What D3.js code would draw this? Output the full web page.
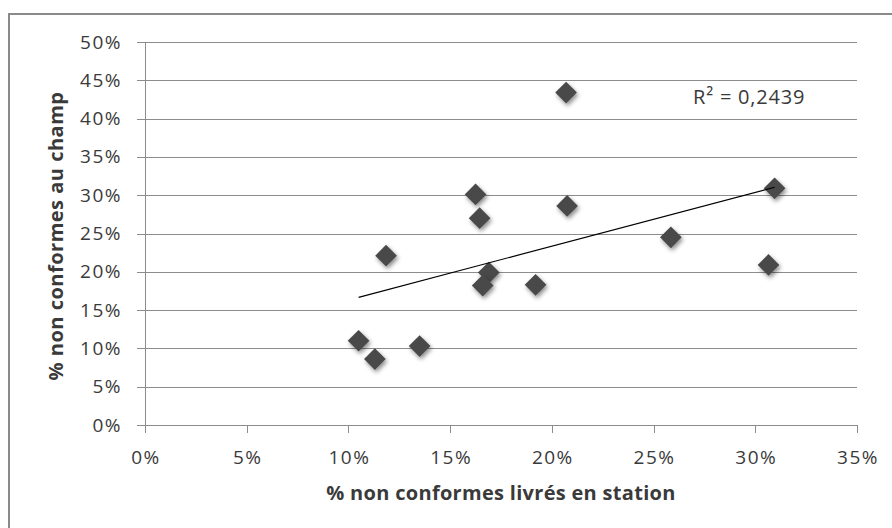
<!DOCTYPE html>
<html>
<head>
<meta charset="utf-8">
<script src="https://cdn.jsdelivr.net/npm/d3@7"></script>
<style>
  body { margin: 0; background: #fff; }
  svg { display: block; }
  text { font-family: "Open Sans", sans-serif; fill: #3a3a3a; }
</style>
</head>
<body>
<div id="container"></div>
<script>
/* the data (in %) */
var livres = [10.5, 11.3, 11.85, 13.5, 16.25, 16.45, 16.9, 16.6, 19.2, 20.7, 20.75, 25.85, 30.65, 30.95]
var champ  = [11.0, 8.6, 22.1, 10.3, 30.1, 27.0, 19.9, 18.2, 18.3, 43.4, 28.6, 24.5, 20.9, 30.9]
var xTicks = [0, 5, 10, 15, 20, 25, 30, 35]
var yTicks = [0, 5, 10, 15, 20, 25, 30, 35, 40, 45, 50]
var xTitle = "% non conformes livrés en station"
var yTitle = "% non conformes au champ"
var r2Label = "R² = 0,2439"

/* setup the dimensions */
var W = 892, H = 528
var plot = { left: 145, right: 857, top: 42, bottom: 425 }

var svg = d3.select("#container")
            .append("svg")
            .attr("width", W)
            .attr("height", H)

/* drop shadow for the diamonds */
var f = svg.append("defs").append("filter")
           .attr("id", "shadow")
           .attr("x", "-50%").attr("y", "-50%")
           .attr("width", "200%").attr("height", "200%")
f.append("feDropShadow")
  .attr("dx", 1.5).attr("dy", 2.5)
  .attr("stdDeviation", 2)
  .attr("flood-color", "#000")
  .attr("flood-opacity", 0.45)

/* outer chart border (runs off the right and bottom) */
svg.append("rect")
   .attr("x", 9).attr("y", 14)
   .attr("width", 1000).attr("height", 1000)
   .attr("fill", "#fff")
   .attr("stroke", "#8a8a8a")
   .attr("stroke-width", 2)

var x = d3.scaleLinear().domain([0, 35]).range([plot.left, plot.right])
var y = d3.scaleLinear().domain([0, 50]).range([plot.bottom, plot.top])

/* horizontal gridlines + y ticks */
svg.selectAll(".grid")
   .data(yTicks)
   .enter().append("line")
     .attr("class", "grid")
     .attr("x1", plot.left - 8)
     .attr("x2", plot.right)
     .attr("y1", function(d) { return Math.round(y(d)) + 0.5 })
     .attr("y2", function(d) { return Math.round(y(d)) + 0.5 })
     .attr("stroke", "#8c8c8c")
     .attr("stroke-width", 1)

svg.selectAll(".ylab")
   .data(yTicks)
   .enter().append("text")
     .attr("class", "ylab")
     .attr("x", 122)
     .attr("y", function(d) { return y(d) + 6.5 })
     .attr("text-anchor", "end")
     .style("font-size", "19px")
     .style("letter-spacing", "1.5px")
     .text(function(d) { return d + "%" })

/* y axis line */
svg.append("line")
   .attr("x1", plot.left + 0.5).attr("x2", plot.left + 0.5)
   .attr("y1", plot.top).attr("y2", plot.bottom)
   .attr("stroke", "#8c8c8c")

/* x ticks + labels */
svg.selectAll(".xtick")
   .data(xTicks)
   .enter().append("line")
     .attr("class", "xtick")
     .attr("x1", function(d) { return Math.round(x(d)) + 0.5 })
     .attr("x2", function(d) { return Math.round(x(d)) + 0.5 })
     .attr("y1", plot.bottom)
     .attr("y2", plot.bottom + 8)
     .attr("stroke", "#8c8c8c")

svg.selectAll(".xlab")
   .data(xTicks)
   .enter().append("text")
     .attr("class", "xlab")
     .attr("x", function(d) { return x(d) + 1 })
     .attr("y", 464)
     .attr("text-anchor", "middle")
     .style("font-size", "19px")
     .style("letter-spacing", "1.5px")
     .text(function(d) { return d + "%" })

/* axis titles */
svg.append("text")
   .attr("x", (plot.left + plot.right) / 2)
   .attr("y", 500)
   .attr("text-anchor", "middle")
   .style("font-size", "20px")
   .style("font-weight", "bold")
   .style("letter-spacing", "0.3px")
   .text(xTitle)

svg.append("text")
   .attr("transform", "translate(63," + 236 + ") rotate(-90)")
   .attr("text-anchor", "middle")
   .style("font-size", "20px")
   .style("font-weight", "bold")
   .style("letter-spacing", "0.5px")
   .text(yTitle)

/* the points */
var pts = livres.map(function(v, i) { return { x: v, y: champ[i] } })

svg.selectAll(".pt")
   .data(pts)
   .enter().append("path")
     .attr("class", "pt")
     .attr("d", d3.symbol().type(d3.symbolDiamond2).size(300))
     .attr("transform", function(d) { return "translate(" + x(d.x) + "," + y(d.y) + ")" })
     .attr("fill", "#4a4a4a")
     .attr("filter", "url(#shadow)")

/* linear trend line (least squares over the points) */
var mx = d3.mean(pts, function(d) { return d.x }),
    my = d3.mean(pts, function(d) { return d.y })
var sxy = d3.sum(pts, function(d) { return (d.x - mx) * (d.y - my) }),
    sxx = d3.sum(pts, function(d) { return (d.x - mx) * (d.x - mx) })
var slope = sxy / sxx, icpt = my - slope * mx
var ext = d3.extent(livres)

svg.append("line")
   .attr("x1", x(ext[0])).attr("y1", y(icpt + slope * ext[0]))
   .attr("x2", x(ext[1])).attr("y2", y(icpt + slope * ext[1]))
   .attr("stroke", "#000")
   .attr("stroke-width", 1.2)

svg.append("text")
   .attr("x", 693)
   .attr("y", 104)
   .style("font-size", "20px")
   .style("letter-spacing", "0.8px")
   .text(r2Label)
</script>
</body>
</html>
